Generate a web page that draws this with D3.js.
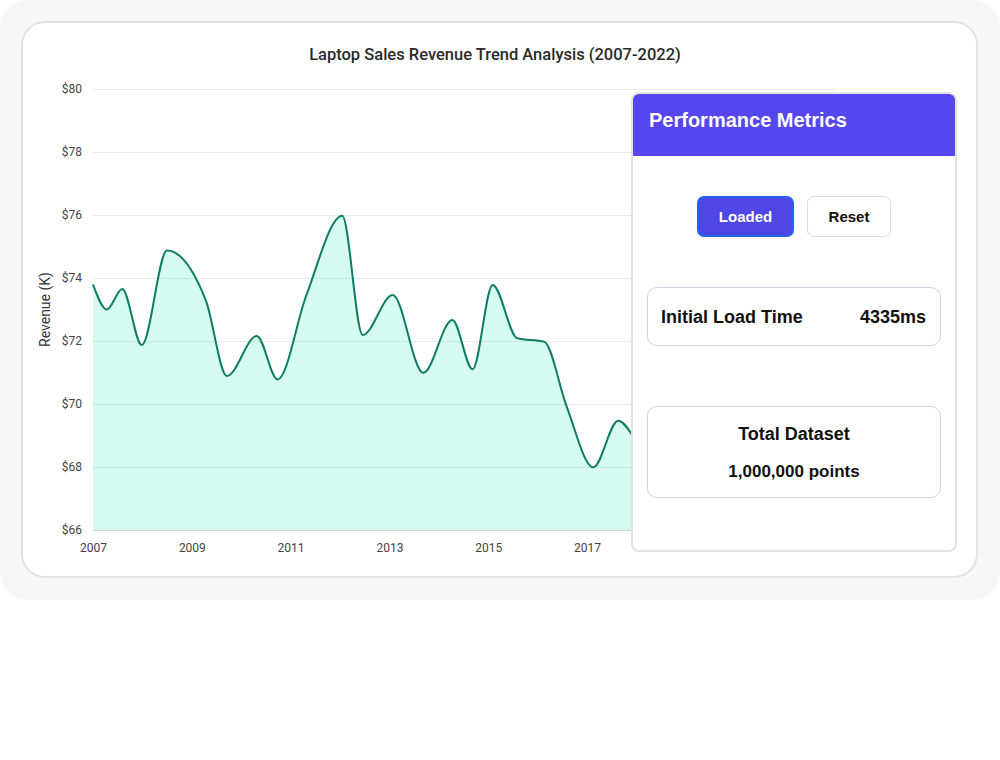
<!DOCTYPE html>
<html>
<head>
<meta charset="utf-8">
<script src="https://cdn.jsdelivr.net/npm/d3@7"></script>
<style>
  body { margin: 0; background: #fff; font-family: Roboto, "Noto Sans", sans-serif; }
  .outer { position: absolute; left: 0; top: 0; width: 1000px; height: 600px; background: #f7f7f7; border-radius: 28px; }
  .card { position: absolute; left: 21px; top: 21px; width: 957px; height: 557px; box-sizing: border-box;
          background: #fff; border: 2px solid #e3e3e3; border-radius: 24px; }
  svg { position: absolute; left: 0; top: 0; }
  .panel { position: absolute; left: 631px; top: 92px; width: 326px; height: 460px; box-sizing: border-box;
           background: #fff; border: 2px solid #e2e2e2; border-radius: 8px; overflow: hidden;
           font-family: "Liberation Sans", Arial, sans-serif; color: #111; }
  .panel .head { height: 62px; background: #5546ed; color: #fff; font-weight: bold; font-size: 20px;
                 line-height: 52px; padding-left: 16px; }
  .btn { position: absolute; top: 102px; height: 41px; box-sizing: border-box; border-radius: 7px;
         font-weight: bold; font-size: 15px; text-align: center; line-height: 37px; }
  .btn.loaded { left: 64px; width: 97px; background: #5046e6; color: #fff; border: 2px solid #2563eb; }
  .btn.reset { left: 174px; width: 84px; background: #fff; color: #111; border: 1px solid #dcdcdc; line-height: 39px; }
  .box { position: absolute; left: 14px; width: 294px; box-sizing: border-box; border: 1px solid #c9d4e4; border-radius: 10px; }
  .box1 { top: 193px; height: 59px; font-weight: bold; font-size: 18px; }
  .box1 .lbl { position: absolute; left: 13px; top: 19px; }
  .box1 .val { position: absolute; right: 14px; top: 19px; }
  .box2 { top: 312px; height: 92px; font-weight: bold; text-align: center; }
  .box2 .t1 { position: absolute; left: 0; right: 0; top: 17px; font-size: 18px; }
  .box2 .t2 { position: absolute; left: 0; right: 0; top: 55px; font-size: 17px; }
</style>
</head>
<body>
<div class="outer"></div>
<div class="card"></div>
<svg width="1000" height="600"></svg>
<div class="panel">
  <div class="head">Performance Metrics</div>
  <div class="btn loaded">Loaded</div>
  <div class="btn reset">Reset</div>
  <div class="box box1"><span class="lbl">Initial Load Time</span><span class="val">4335ms</span></div>
  <div class="box box2"><div class="t1">Total Dataset</div><div class="t2">1,000,000 points</div></div>
</div>
<script>
// downsampled points (irregular dates)
const dates = ["2007-01-01", "2007-04-13", "2007-08-05", "2007-12-28", "2008-07-01", "2009-04-15",
  "2009-09-17", "2010-04-26", "2010-09-27", "2011-04-28", "2012-01-18", "2012-06-17",
  "2013-01-25", "2013-09-08", "2014-04-11", "2014-09-08", "2015-02-03", "2015-08-04",
  "2016-02-19", "2016-08-04", "2017-02-16", "2017-08-19", "2018-03-10", "2018-10-20",
  "2019-06-01", "2020-02-10", "2020-10-15", "2021-06-01", "2022-01-01"];
const revenue = [73.8, 73.0, 73.65, 71.87, 74.87, 73.28,
  70.89, 72.16, 70.78, 73.46, 75.98, 72.19,
  73.46, 70.99, 72.67, 71.10, 73.78, 72.09,
  71.98, 69.91, 67.99, 69.47, 68.6, 70.2,
  69.0, 70.5, 69.3, 70.8, 70.0];
const yTicks = [66, 68, 70, 72, 74, 76, 78, 80];
const xTickYears = [2007, 2009, 2011, 2013, 2015, 2017, 2019, 2021];
const title = "Laptop Sales Revenue Trend Analysis (2007-2022)";

const parse = d3.timeParse("%Y-%m-%d");
const data = dates.map((d, i) => ({ date: parse(d), value: revenue[i] }));

const svg = d3.select('svg');
const m = { left: 93, right: 834, top: 89, bottom: 530 };

const xScale = d3.scaleTime()
  .domain([parse("2007-01-01"), parse("2022-01-01")])
  .range([m.left, m.right]);
const yScale = d3.scaleLinear()
  .domain([66, 80])
  .range([m.bottom, m.top]);

// title
svg.append('text')
  .attr('x', 495).attr('y', 60)
  .attr('text-anchor', 'middle')
  .attr('font-size', 16.5).attr('font-weight', 500)
  .attr('fill', '#2a2a2a')
  .text(title);

// area under the line
svg.append('path')
  .datum(data)
  .attr('fill', '#d6fcf2')
  .attr('d', d3.area()
    .curve(d3.curveMonotoneX)
    .x(d => xScale(d.date))
    .y0(yScale(66))
    .y1(d => yScale(d.value)));

// grid + y labels
const yAxis = svg.append('g')
  .attr('transform', `translate(${m.left},0)`)
  .call(d3.axisLeft(yScale).tickValues(yTicks).tickSize(-(m.right - m.left)).tickPadding(11).tickFormat(d => "$" + d));
yAxis.select('.domain').remove();
yAxis.selectAll('.tick line').attr('stroke', '#000').attr('stroke-opacity', 0.08);
yAxis.selectAll('.tick text').attr('font-size', 12).attr('fill', '#444').attr('font-family', 'Roboto');

// x axis
const xAxis = svg.append('g')
  .attr('transform', `translate(0,${m.bottom})`)
  .call(d3.axisBottom(xScale)
    .tickValues(xTickYears.map(y => new Date(y, 0, 1)))
    .tickSize(0).tickPadding(13).tickFormat(d3.timeFormat("%Y")));
xAxis.select('.domain').attr('stroke', '#d4d4d4');
xAxis.selectAll('.tick text').attr('font-size', 12).attr('fill', '#444').attr('font-family', 'Roboto');

// line
svg.append('path')
  .datum(data)
  .attr('fill', 'none')
  .attr('stroke', '#0e7d64')
  .attr('stroke-width', 2)
  .attr('d', d3.line()
    .curve(d3.curveMonotoneX)
    .x(d => xScale(d.date))
    .y(d => yScale(d.value)));

// y label
svg.append('text')
  .attr('transform', `translate(50,${(m.top + m.bottom) / 2}) rotate(-90)`)
  .attr('text-anchor', 'middle')
  .attr('font-size', 14).attr('fill', '#333')
  .text('Revenue (K)');
</script>
</body>
</html>
